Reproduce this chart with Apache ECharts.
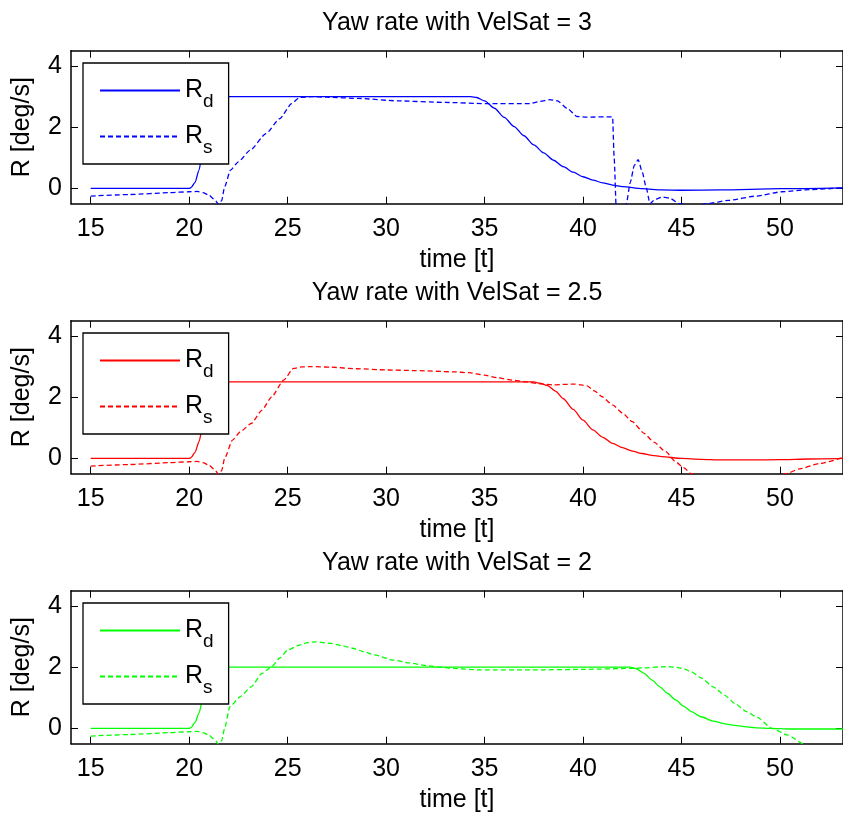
<!DOCTYPE html>
<html>
<head>
<meta charset="utf-8">
<script src="https://cdn.jsdelivr.net/npm/echarts@6/dist/echarts.min.js"></script>
<style>
  html, body { margin: 0; padding: 0; background: #fff; }
  #chart { width: 843px; height: 817px; }
</style>
</head>
<body>
<div id="chart"></div>
<script>
// tick labels
var xTicks = [15, 20, 25, 30, 35, 40, 45, 50];
var yTicks = [0, 2, 4];
var titles = ['Yaw rate with VelSat = 3', 'Yaw rate with VelSat = 2.5', 'Yaw rate with VelSat = 2'];
var colors = ['#0000ff', '#ff0000', '#00ff00'];

// VelSat = 3
var t3d = [15,20,20.1,20.3,20.5,20.7,20.9,21.1,21.3,21.6,22,34.3,34.6,35.0,35.5,36.0,36.5,37.0,37.5,38.0,38.5,39.0,39.5,40.0,40.5,41.0,41.5,42.0,43.0,44.0,45.0,47.0,50.0,53.2];
var r3d = [0,0,0.03,0.2,0.6,1.3,2.0,2.5,2.8,2.97,3.0,3.0,2.97,2.86,2.62,2.32,2.02,1.72,1.42,1.16,0.92,0.71,0.53,0.38,0.27,0.18,0.11,0.06,-0.01,-0.05,-0.06,-0.05,-0.01,0.02];
var t3s = [15,17,19,20,20.4,20.7,21.0,21.3,21.5,21.65,21.8,22.1,22.5,23.1,23.9,24.6,25.2,25.6,26.2,27,28.6,30.6,33,35.1,37.3,37.8,38.3,38.7,39.2,39.7,40.2,41.5,41.58,41.7,42.0,42.2,42.4,42.6,42.8,43.0,43.2,43.4,43.65,44.05,44.4,44.9,45.5,46.3,47.4,48.8,50.1,51.5,53.2];
var r3s = [-0.25,-0.2,-0.14,-0.11,-0.1,-0.14,-0.22,-0.37,-0.52,-0.4,0.05,0.6,0.87,1.25,1.79,2.28,2.77,2.97,3.0,2.98,2.94,2.86,2.81,2.77,2.77,2.84,2.9,2.86,2.61,2.35,2.33,2.34,1.0,-0.9,-0.9,-0.5,0.2,0.75,0.94,0.55,0.05,-0.5,-0.36,-0.28,-0.32,-0.5,-0.6,-0.5,-0.39,-0.25,-0.11,-0.04,0.02];

// VelSat = 2.5
var t25d = [15,20,20.1,20.3,20.5,20.7,20.9,21.1,21.3,21.6,22,37.5,37.8,38.2,38.6,39.0,39.5,40.0,40.5,41.0,41.5,42.0,42.5,43.0,43.5,44.0,45.0,46.0,47.0,48.5,50.0,51.5,53.2];
var r25d = [0,0,0.03,0.2,0.55,1.1,1.7,2.1,2.35,2.48,2.5,2.5,2.46,2.38,2.2,1.95,1.6,1.25,0.93,0.69,0.49,0.35,0.24,0.16,0.1,0.06,0.0,-0.03,-0.05,-0.05,-0.04,-0.02,0.0];
var t25s = [15,17,19,20,20.4,20.7,21.0,21.3,21.5,21.65,21.8,22.2,22.6,23.15,23.7,24.2,24.8,25.3,25.7,26.2,27.2,28.5,30,31.5,33.4,34.2,35,35.7,36.4,37.1,37.8,38.5,39.1,39.6,39.9,40.2,40.6,40.95,41.5,42.0,42.5,43.1,43.6,44.2,44.7,45.1,45.5,45.8,47.5,49.5,50.3,51,52,53.2];
var r25s = [-0.25,-0.2,-0.14,-0.11,-0.1,-0.14,-0.22,-0.37,-0.52,-0.4,0.0,0.6,0.87,1.14,1.58,2.02,2.56,2.94,2.99,3.0,2.98,2.93,2.89,2.87,2.83,2.8,2.72,2.63,2.56,2.5,2.44,2.4,2.42,2.43,2.4,2.37,2.2,2.02,1.75,1.48,1.2,0.82,0.53,0.22,-0.11,-0.3,-0.5,-0.6,-0.8,-0.7,-0.5,-0.34,-0.17,0.03];

// VelSat = 2
var t2d = [15,20,20.1,20.3,20.5,20.7,20.9,21.1,21.3,21.6,22,42.4,42.7,43.1,43.5,43.9,44.3,44.7,45.1,45.5,46.0,46.6,47.2,47.7,48.3,48.8,49.5,50.5,52,53.2];
var r2d = [0,0,0.03,0.2,0.5,1.0,1.45,1.75,1.92,1.99,2.0,2.0,1.95,1.8,1.58,1.36,1.14,0.93,0.73,0.55,0.38,0.24,0.15,0.1,0.05,0.02,0,-0.02,-0.02,-0.02];
var t2s = [15,17,19,20,20.4,20.7,21.0,21.3,21.5,21.65,21.8,22.07,22.6,23.15,23.7,24.2,24.6,25.0,25.6,26.0,26.4,27.2,27.8,28.3,28.9,29.4,30.4,31.2,32.05,33.4,34.75,37.4,40.1,42.4,43.1,44.2,44.7,45.1,45.5,46.0,46.6,47.2,47.7,48.3,48.8,49.6,50.4,51.2,51.8,53.2];
var r2s = [-0.25,-0.2,-0.14,-0.11,-0.1,-0.14,-0.22,-0.37,-0.52,-0.4,0.0,0.71,1.04,1.36,1.8,2.02,2.3,2.56,2.72,2.8,2.83,2.78,2.7,2.62,2.5,2.4,2.23,2.14,2.05,1.96,1.91,1.91,1.93,1.96,1.98,2.02,2.0,1.95,1.85,1.65,1.36,1.08,0.82,0.55,0.38,0.0,-0.22,-0.51,-0.7,-0.9];

var desired = [[t3d, r3d], [t25d, r25d], [t2d, r2d]];
var sensed = [[t3s, r3s], [t25s, r25s], [t2s, r2s]];

function pairs(t, r) {
  return t.map(function (v, i) { return [v, r[i]]; });
}

var font = 'Liberation Sans, Arial, Helvetica, sans-serif';
var fs = 25;
var gridTops = [50.7, 320.7, 590.7];

var grid = [], xAxis = [], yAxis = [], series = [], legend = [];

gridTops.forEach(function (top, k) {
  grid.push({ left: 71, top: top, height: 153, width: 776 });

  var axisLine = { show: true, onZero: false, lineStyle: { color: '#000', width: 1.5 } };
  var tick = { show: true, inside: true, length: 7, lineStyle: { color: '#000', width: 1 } };
  var txt = { color: '#000', fontSize: fs, fontFamily: font };

  // bottom x axis with labels
  xAxis.push({
    type: 'value', gridIndex: k, min: 14, max: 53.2, position: 'bottom',
    axisLine: axisLine,
    axisTick: Object.assign({ customValues: xTicks }, tick),
    axisLabel: Object.assign({ customValues: xTicks, margin: 13 }, txt),
    splitLine: { show: false },
    name: 'time [t]', nameLocation: 'middle', nameGap: 44,
    nameTextStyle: txt
  });
  // top x axis carries the title
  xAxis.push({
    type: 'value', gridIndex: k, min: 14, max: 53.2, position: 'top',
    axisLine: axisLine,
    axisTick: Object.assign({ customValues: xTicks }, tick),
    axisLabel: { show: false },
    splitLine: { show: false },
    name: titles[k], nameLocation: 'middle', nameGap: 15,
    nameTextStyle: txt
  });
  yAxis.push({
    type: 'value', gridIndex: k, min: -0.5, max: 4.5, position: 'left',
    axisLine: axisLine,
    axisTick: Object.assign({ customValues: yTicks }, tick),
    axisLabel: Object.assign({ customValues: yTicks, margin: 9 }, txt),
    splitLine: { show: false },
    name: 'R [deg/s]', nameLocation: 'middle', nameGap: 36,
    nameTextStyle: txt
  });
  yAxis.push({
    type: 'value', gridIndex: k, min: -0.5, max: 4.5, position: 'right',
    axisLine: axisLine,
    axisTick: Object.assign({ customValues: yTicks }, tick),
    axisLabel: { show: false },
    splitLine: { show: false }
  });

  var nd = 'Rd' + k, ns = 'Rs' + k;
  series.push({
    name: nd, type: 'line', xAxisIndex: 2 * k, yAxisIndex: 2 * k,
    data: pairs(desired[k][0], desired[k][1]),
    showSymbol: false, symbol: 'none', smooth: 0.25, smoothMonotone: 'x',
    lineStyle: { color: colors[k], width: 1.3 }, itemStyle: { color: colors[k] }
  });
  series.push({
    name: ns, type: 'line', xAxisIndex: 2 * k, yAxisIndex: 2 * k,
    data: pairs(sensed[k][0], sensed[k][1]),
    showSymbol: false, symbol: 'none', smooth: 0.2, smoothMonotone: 'x',
    lineStyle: { color: colors[k], width: 1.3, type: [5, 3] }, itemStyle: { color: colors[k] }
  });

  legend.push({
    data: [nd, ns], orient: 'vertical', left: 83, top: 63 + 270 * k,
    padding: [7, 15, 7, 16], itemGap: 5, itemWidth: 80, itemHeight: 14,
    backgroundColor: '#fff', borderColor: '#000', borderWidth: 1.3, borderRadius: 0,
    selectedMode: false,
    itemStyle: { opacity: 0 },
    formatter: function (name) { return '{r|R}{s|' + name.charAt(1) + '}'; },
    textStyle: {
      color: '#000', fontFamily: font,
      rich: {
        r: { fontSize: fs, lineHeight: 40, fontFamily: font, color: '#000' },
        s: { fontSize: 19, lineHeight: 19, padding: [22, 0, 0, 0], fontFamily: font, color: '#000' }
      }
    }
  });
});

var myChart = echarts.init(document.getElementById('chart'), null, { renderer: 'canvas' });
myChart.setOption({
  animation: false,
  backgroundColor: '#fff',
  textStyle: { fontFamily: font },
  grid: grid,
  xAxis: xAxis,
  yAxis: yAxis,
  legend: legend,
  series: series
});
</script>
</body>
</html>
